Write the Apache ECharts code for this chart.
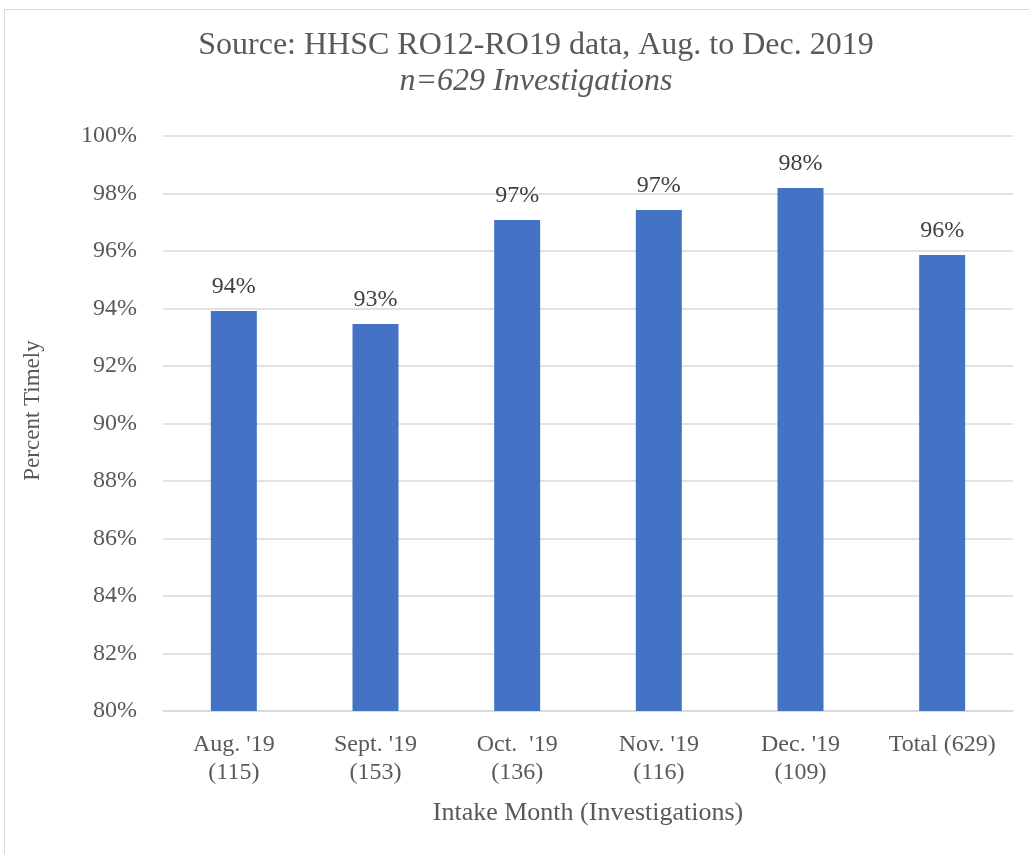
<!DOCTYPE html>
<html>
<head>
<meta charset="utf-8">
<script src="https://cdn.jsdelivr.net/npm/echarts@6/dist/echarts.min.js"></script>
<style>
  html, body { margin: 0; padding: 0; background: #fff; }
  #chart { width: 1029px; height: 854px; }
</style>
</head>
<body>
<div id="chart"></div>
<script>
// intake months (investigations count on second line)
var months = ['Aug. \'19\n(115)', 'Sept. \'19\n(153)', 'Oct.  \'19\n(136)', 'Nov. \'19\n(116)', 'Dec. \'19\n(109)', 'Total (629)'];
// percent timely
var timely = [93.91, 93.46, 97.08, 97.43, 98.19, 95.86];
var yTicks = { min: 80, max: 100, step: 2 };

var font = '"Liberation Serif", "Times New Roman", serif';
var grey = '#595959';

var chart = echarts.init(document.getElementById('chart'));
var option = {
  animation: false,
  textStyle: { fontFamily: font, color: grey },
  title: {
    text: 'Source: HHSC RO12-RO19 data, Aug. to Dec. 2019',
    subtext: 'n=629 Investigations',
    left: 531,
    textAlign: 'center',
    top: 25,
    itemGap: 4,
    textStyle: { fontFamily: font, fontSize: 32, fontWeight: 'normal', color: grey },
    subtextStyle: { fontFamily: font, fontSize: 32, fontStyle: 'italic', color: grey }
  },
  graphic: [{
    type: 'rect',
    shape: { x: 4.5, y: 9.5, width: 1100, height: 900 },
    style: { fill: 'none', stroke: '#d9d9d9', lineWidth: 1 },
    silent: true
  }],
  grid: { left: 163, right: 16, top: 136, bottom: 143 },
  xAxis: {
    type: 'category',
    data: months,
    name: 'Intake Month (Investigations)',
    nameLocation: 'middle',
    nameGap: 89,
    nameTextStyle: { fontFamily: font, fontSize: 26, color: grey },
    axisLine: { lineStyle: { color: '#d9d9d9', width: 1.5 } },
    axisTick: { show: false },
    axisLabel: { fontFamily: font, fontSize: 24, color: grey, margin: 20, lineHeight: 28 }
  },
  yAxis: {
    type: 'value',
    min: yTicks.min,
    max: yTicks.max,
    interval: yTicks.step,
    name: 'Percent Timely',
    nameLocation: 'middle',
    nameGap: 119,
    nameTextStyle: { fontFamily: font, fontSize: 23, color: grey, padding: [0, 0, 0, 26] },
    axisLine: { show: false },
    axisTick: { show: false },
    splitLine: { lineStyle: { color: '#d9d9d9', width: 1.5 } },
    axisLabel: { fontFamily: font, fontSize: 24, color: grey, margin: 26, formatter: '{value}%' }
  },
  series: [{
    type: 'bar',
    data: timely,
    barWidth: 46,
    itemStyle: { color: '#4472C4' },
    label: {
      show: true,
      position: 'top',
      distance: 12,
      fontFamily: font,
      fontSize: 24,
      color: '#404040',
      formatter: function (p) { return Math.round(p.value) + '%'; }
    }
  }]
};
chart.setOption(option);
</script>
</body>
</html>
